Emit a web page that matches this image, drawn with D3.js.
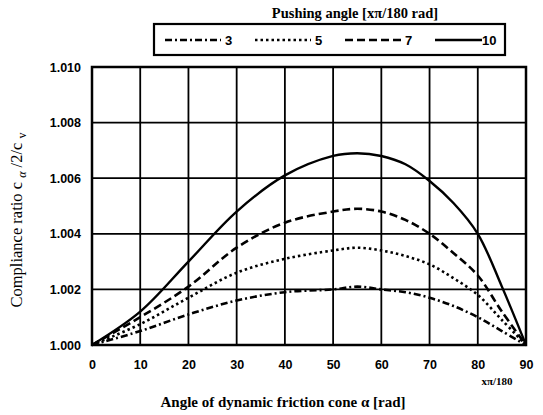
<!DOCTYPE html>
<html>
<head>
<meta charset="utf-8">
<script src="https://cdn.jsdelivr.net/npm/d3@7"></script>
<style>
  body { margin: 0; background: #fff; }
  svg { display: block; }
</style>
</head>
<body>
<svg id="chart" width="543" height="415"></svg>
<script>
// data
var angles = [0, 10, 20, 30, 40, 50, 55, 60, 65, 70, 75, 80, 85, 90];
var push3 = [1.0000, 1.0005, 1.0011, 1.0016, 1.0019, 1.0020, 1.0021, 1.0020, 1.0019, 1.0017, 1.0014, 1.0010, 1.0005, 1.0000];
var push5 = [1.0000, 1.00075, 1.0017, 1.0026, 1.0031, 1.0034, 1.0035, 1.0034, 1.0032, 1.0029, 1.0024, 1.0018, 1.0009, 1.0000];
var push7 = [1.0000, 1.0010, 1.0021, 1.0035, 1.0044, 1.0048, 1.0049, 1.0048, 1.0045, 1.0040, 1.0033, 1.0025, 1.0012, 1.0000];
var push10 = [1.0000, 1.0012, 1.0030, 1.0048, 1.0061, 1.0068, 1.0069, 1.0068, 1.0065, 1.0059, 1.0051, 1.0040, 1.0021, 1.0000];
var seriesNames = ["3", "5", "7", "10"];
var xTicks = [0, 10, 20, 30, 40, 50, 60, 70, 80, 90];
var yTicks = [1.000, 1.002, 1.004, 1.006, 1.008, 1.010];

var series = [
  { name: "3", values: push3, dash: "7,3,2,3" },
  { name: "5", values: push5, dash: "2.5,3" },
  { name: "7", values: push7, dash: "8,4" },
  { name: "10", values: push10, dash: null }
];

var margin = { left: 92, top: 67, right: 17, bottom: 70 };
var width = 543 - margin.left - margin.right,
  height = 415 - margin.top - margin.bottom;

var svg = d3.select("#chart");
var g = svg.append("g").attr("transform", "translate(" + margin.left + "," + margin.top + ")");

var x = d3.scaleLinear().domain([0, 90]).range([0, width]);
var y = d3.scaleLinear().domain([1.000, 1.010]).range([height, 0]);

// grid lines
g.append("g")
  .selectAll("line.vgrid")
  .data(xTicks)
  .enter()
  .append("line")
  .attr("x1", function(d) { return x(d); })
  .attr("x2", function(d) { return x(d); })
  .attr("y1", 0)
  .attr("y2", height)
  .style("stroke", "#000")
  .style("stroke-width", 1.8);

g.append("g")
  .selectAll("line.hgrid")
  .data(yTicks)
  .enter()
  .append("line")
  .attr("x1", 0)
  .attr("x2", width)
  .attr("y1", function(d) { return y(d); })
  .attr("y2", function(d) { return y(d); })
  .style("stroke", "#000")
  .style("stroke-width", 1.8);

g.append("rect")
  .attr("width", width)
  .attr("height", height)
  .style("fill", "none")
  .style("stroke", "#000")
  .style("stroke-width", 2.5);

// axes (labels only, the grid draws the lines)
var xAxis = g.append("g")
  .attr("transform", "translate(0," + height + ")")
  .call(d3.axisBottom(x).tickValues(xTicks).tickSize(0).tickPadding(15).tickFormat(d3.format("d")));
var yAxis = g.append("g")
  .call(d3.axisLeft(y).tickValues(yTicks).tickSize(0).tickPadding(11).tickFormat(d3.format(".3f")));
[xAxis, yAxis].forEach(function(a) {
  a.select(".domain").remove();
  a.selectAll("text")
    .style("font-family", "'Liberation Sans', Arial, sans-serif")
    .style("font-weight", "bold")
    .style("font-size", "12.5px")
    .style("fill", "#000");
});

// curves
var line = d3.line()
  .x(function(d, i) { return x(angles[i]); })
  .y(function(d) { return y(d); })
  .curve(d3.curveCatmullRom.alpha(0.5));

g.selectAll("path.curve")
  .data(series)
  .enter()
  .append("path")
  .attr("class", "curve")
  .attr("d", function(d) { return line(d.values); })
  .style("fill", "none")
  .style("stroke", "#000")
  .style("stroke-width", function(d) { return d.dash ? 2.6 : 2.4; })
  .style("stroke-dasharray", function(d) { return d.dash; });

// axis titles
svg.append("text")
  .attr("x", 283)
  .attr("y", 407)
  .attr("text-anchor", "middle")
  .style("font-family", "'Liberation Serif', 'Times New Roman', serif")
  .style("font-weight", "bold")
  .style("font-size", "15px")
  .text("Angle of dynamic friction cone α [rad]");

svg.append("text")
  .attr("x", 497)
  .attr("y", 385)
  .attr("text-anchor", "middle")
  .style("font-family", "'Liberation Serif', 'Times New Roman', serif")
  .style("font-weight", "bold")
  .style("font-size", "11px")
  .text("xπ/180");

var yTitle = svg.append("text")
  .attr("transform", "translate(22,220) rotate(-90)")
  .attr("text-anchor", "middle")
  .style("font-family", "'Liberation Serif', 'Times New Roman', serif")
  .style("font-size", "16.5px");
yTitle.append("tspan").text("Compliance ratio c ");
yTitle.append("tspan").attr("dy", 4).style("font-size", "12px").style("font-style", "italic").text("α");
yTitle.append("tspan").attr("dy", -4).text(" /2/c ");
yTitle.append("tspan").attr("dy", 4).style("font-size", "12px").text("v");

// legend
svg.append("text")
  .attr("x", 355)
  .attr("y", 18)
  .attr("text-anchor", "middle")
  .style("font-family", "'Liberation Serif', 'Times New Roman', serif")
  .style("font-weight", "bold")
  .style("font-size", "14.5px")
  .text("Pushing angle [xπ/180 rad]");

svg.append("rect")
  .attr("x", 154)
  .attr("y", 24)
  .attr("width", 351)
  .attr("height", 31)
  .style("fill", "#fff")
  .style("stroke", "#000")
  .style("stroke-width", 2.2);

var legendX = d3.scalePoint().domain(seriesNames).range([165, 435]);
var item = svg.selectAll("g.legend")
  .data(series)
  .enter()
  .append("g")
  .attr("class", "legend")
  .attr("transform", function(d) { return "translate(" + legendX(d.name) + ",40)"; });

item.append("line")
  .attr("x1", 0)
  .attr("x2", function(d) { return d.name === "10" ? 47 : 56; })
  .style("stroke", "#000")
  .style("stroke-width", 2.4)
  .style("stroke-dasharray", function(d) { return d.dash; });

item.append("text")
  .attr("x", function(d) { return d.name === "10" ? 47 : 60; })
  .attr("y", 5)
  .style("font-family", "'Liberation Sans', Arial, sans-serif")
  .style("font-weight", "bold")
  .style("font-size", "13px")
  .text(function(d) { return d.name; });
</script>
</body>
</html>
